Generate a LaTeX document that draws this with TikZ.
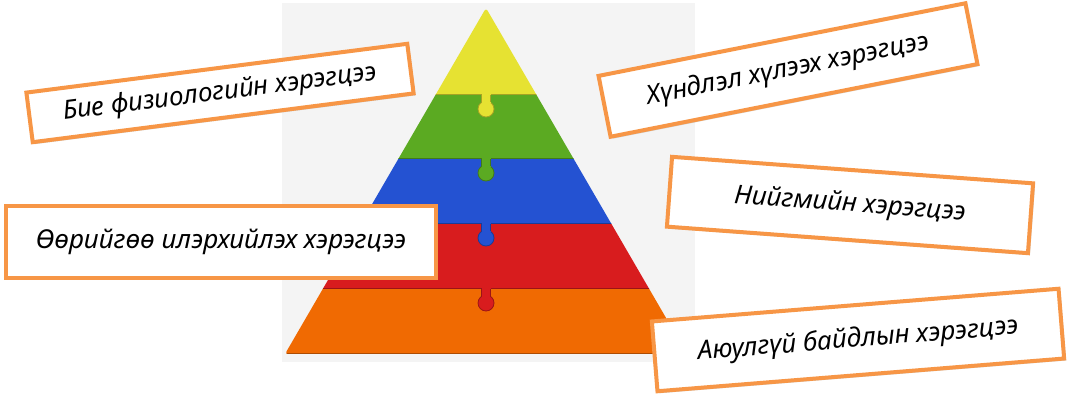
\documentclass[tikz,border=0pt]{standalone}
\usepackage{fontspec}
\setmainfont{Noto Sans}
\usepackage{xcolor}
\usetikzlibrary{shadows}

\definecolor{cardline}{HTML}{F79646}
\definecolor{pyyellow}{HTML}{E6E232}
\definecolor{pygreen}{HTML}{5BAA22}
\definecolor{pyblue}{HTML}{2452D2}
\definecolor{pyred}{HTML}{D81C1E}
\definecolor{pyorange}{HTML}{F06A02}
\definecolor{backgray}{HTML}{F4F4F4}

\begin{document}
\begin{tikzpicture}[x=1pt, y=-1pt,
    card/.style={draw=cardline, line width=4pt, fill=white, align=center, inner sep=0pt,
                 font=\fontsize{26}{30}\selectfont\itshape,
                 drop shadow={shadow xshift=2pt, shadow yshift=-2pt, opacity=.25, fill=black!60}},
    knob/.style={line width=.8pt}]
    \useasboundingbox (0,0) rectangle (1067,395);
    \fill[white] (0,0) rectangle (1067,395);
    \fill[backgray] (282,3) rectangle (695,362);

    % pyramid
    \begin{scope}
      \clip[rounded corners=3pt] (486,8) -- (687,354) -- (285,354) -- cycle;
      \foreach \ytop/\ybot/\col in {8/95/pyyellow, 95/159/pygreen, 159/224/pyblue,
                                    224/289/pyred, 289/354/pyorange} {
        \fill[\col] (250,\ytop) rectangle (720,\ybot);
        \draw[\col!72!black, line width=1.2pt] (250,\ybot-0.6) -- (720,\ybot-0.6);
      }
      \foreach \y/\col in {95/pyyellow, 159/pygreen, 224/pyblue, 289/pyred} {
        \filldraw[\col, draw=\col!72!black, knob] (486,\y+14) circle (8);
        \fill[\col] (481.5,\y-2) rectangle (490.5,\y+8);
        \draw[\col!72!black, knob] (481.5,\y) -- (481.5,\y+7.5) (490.5,\y) -- (490.5,\y+7.5);
      }
    \end{scope}

    % labels
    \node[card, minimum width=384, minimum height=50, rotate=7.3] (physio) at (220,93)
      {Бие физиологийн хэрэгцээ};
    \node[card, minimum width=374, minimum height=62, rotate=11.2] (esteem) at (788,70)
      {Хүндлэл хүлээх хэрэгцээ};
    \node[card, minimum width=430, minimum height=72] (self) at (221,242)
      {Өөрийгөө илэрхийлэх хэрэгцээ};
    \node[card, minimum width=362, minimum height=70, rotate=-4.2] (social) at (850,205)
      {Нийгмийн хэрэгцээ};
    \node[card, minimum width=408, minimum height=70, rotate=4.6] (safety) at (858,340)
      {Аюулгүй байдлын хэрэгцээ};
\end{tikzpicture}
\end{document}
